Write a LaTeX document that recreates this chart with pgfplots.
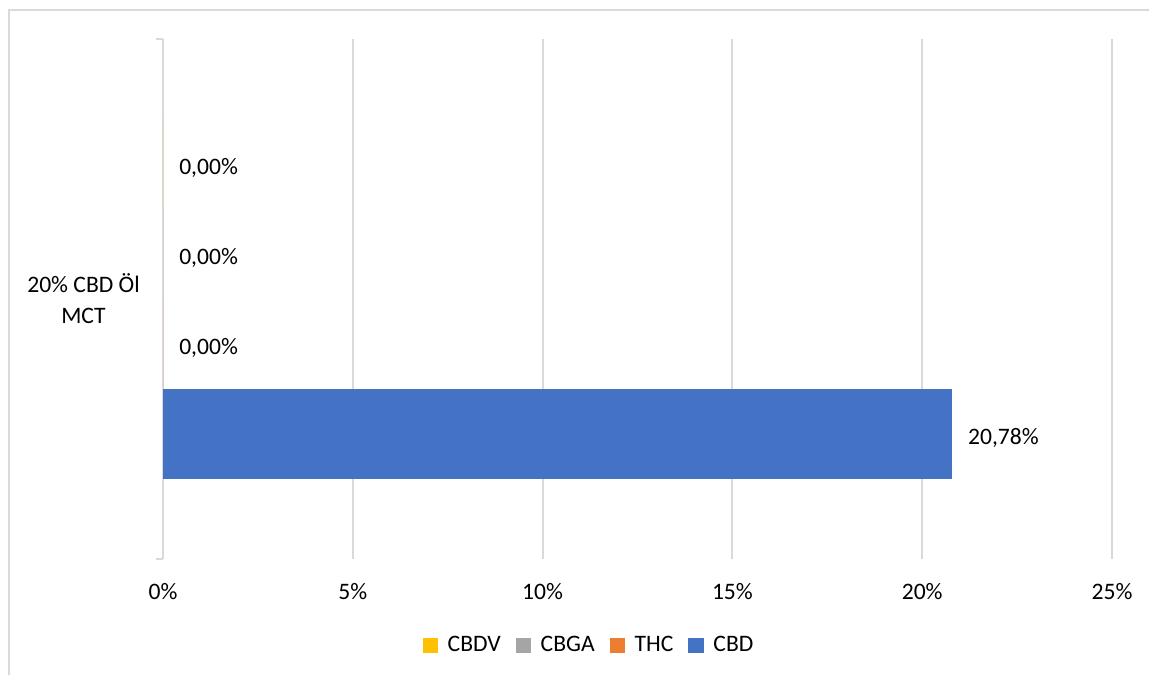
\documentclass[border=0pt]{standalone}
\usepackage{fontspec}
\setmainfont{Carlito}
\usepackage{pgfplots}
\pgfplotsset{compat=1.18}
\definecolor{cbd}{HTML}{4472C4}
\definecolor{thc}{HTML}{ED7D31}
\definecolor{cbga}{HTML}{A5A5A5}
\definecolor{cbdv}{HTML}{FFC000}
\definecolor{gridc}{HTML}{D9D9D9}
\pgfkeys{/pgf/number format/assume math mode=true}

\begin{document}
\fontsize{11.8}{15.5}\selectfont
\begin{tikzpicture}
\useasboundingbox (0,0) rectangle (574.5pt,337pt);
\draw[gridc, line width=0.7pt] (4.5pt,-10pt) rectangle (590pt,332pt);
\begin{axis}[
  at={(81.5pt,57.5pt)}, anchor=south west,
  scale only axis, width=474.5pt, height=260pt,
  xbar, bar width=1, bar shift=0,
  xmin=0, xmax=25, ymin=-2.8889, ymax=2.8889,
  xtick={0,5,...,25},
  xticklabel={\pgfmathprintnumber{\tick}\%},
  xticklabel style={yshift=-8pt},
  ytick={0}, yticklabels={{20\% CBD Öl\\MCT}},
  yticklabel style={align=center, xshift=-7.5pt},
  ytick pos=left,
  major tick length=0pt,
  extra y ticks={-2.8889,2.8889}, extra y tick labels={},
  extra y tick style={major tick length=3.5pt, tick align=outside,
    tick style={draw=gridc, line width=1pt}},
  axis line style={draw=none},
  xmajorgrids, grid style={draw=gridc, line width=1pt},
  point meta=x,
  nodes near coords={\pgfmathprintnumber[fixed,fixed zerofill,precision=2,use comma]{\pgfplotspointmeta}\%},
  nodes near coords style={anchor=west, xshift=4pt, yshift=-2pt},
  reverse legend, legend columns=4,
  legend style={draw=none, at={(0.45,-0.167)}, anchor=center,
    /tikz/every even column/.append style={column sep=5.5pt}},
  legend image code/.code={\fill[#1, draw=none] (0pt,-3.8pt) rectangle (7.6pt,3.8pt);
    \path (10.5pt,0pt);},
]
\addplot[fill=cbd, draw=none, bar shift=0] coordinates {(20.78,-1.5)};
\addlegendentry{CBD}
\addplot[fill=thc, draw=none, bar shift=0] coordinates {(0,-0.5)};
\addlegendentry{THC}
\addplot[fill=cbga, draw=none, bar shift=0] coordinates {(0,0.5)};
\addlegendentry{CBGA}
\addplot[fill=cbdv, draw=none, bar shift=0] coordinates {(0,1.5)};
\addlegendentry{CBDV}
\end{axis}
\end{tikzpicture}
\end{document}
